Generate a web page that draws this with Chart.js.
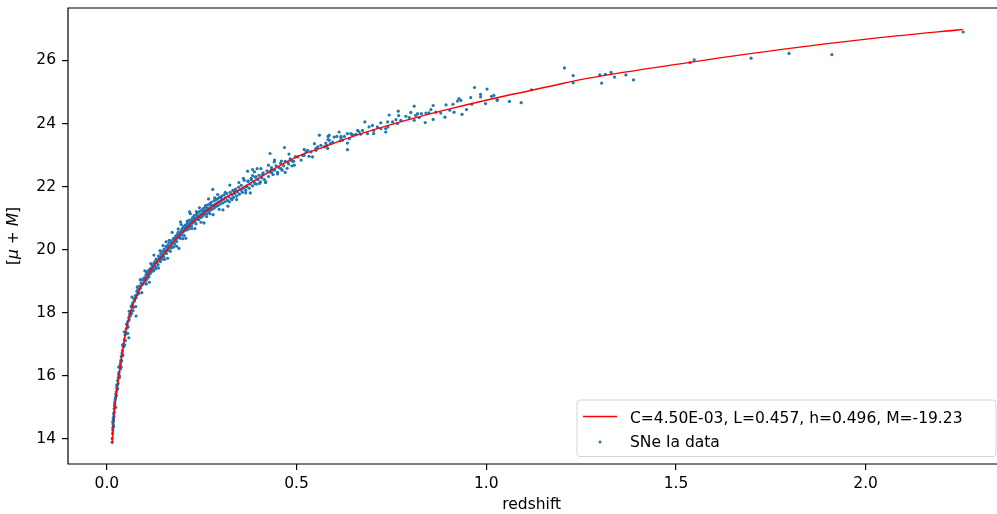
<!DOCTYPE html>
<html>
<head>
<meta charset="utf-8">
<script src="https://cdn.jsdelivr.net/npm/chart.js@4/dist/chart.umd.min.js"></script>
<style>
  html, body { margin: 0; padding: 0; background: #fff; width: 997px; height: 514px; overflow: hidden; }
</style>
</head>
<body>
<canvas id="plotChart" width="997" height="514"></canvas>
<script>
// Hubble diagram: SNe Ia distance modulus vs redshift, with fitted curve

const xTicks = [0.0, 0.5, 1.0, 1.5, 2.0];
const yTicks = [14, 16, 18, 20, 22, 24, 26];
const fitLabel = "C=4.50E-03, L=0.457, h=0.496, M=-19.23";
const dataLabel = "SNe Ia data";

// fitted curve
const fitZ = [0.0137, 0.0197, 0.0287, 0.039, 0.0505, 0.0637, 0.081, 0.103, 0.125, 0.147,
  0.195, 0.248, 0.300, 0.353, 0.406, 0.458, 0.511, 0.564, 0.643, 0.774, 0.906, 1.037,
  1.169, 1.248, 1.511, 1.774, 2.037, 2.256];
const fitMu = [13.86, 14.92, 15.76, 16.60, 17.45, 18.08, 18.61, 19.10, 19.51, 19.83,
  20.51, 21.09, 21.55, 21.93, 22.31, 22.68, 23.00, 23.22, 23.57, 24.05, 24.47, 24.84,
  25.18, 25.39, 25.89, 26.34, 26.72, 26.98];

// SNe Ia points [z, mu+M], z < 0.1
const snLow = [
  [0.0140,13.90],[0.0142,14.02],[0.0150,14.18],[0.0153,14.35],[0.0158,14.28],[0.0160,14.52],
  [0.0165,14.45],[0.0170,14.66],[0.0175,14.60],[0.0180,14.80],[0.0185,14.72],[0.0190,14.95],
  [0.0195,14.85],[0.0200,15.05],[0.0210,15.12],[0.0215,15.00],[0.0220,15.25],[0.0230,15.32],
  [0.0235,15.42],[0.0245,15.50],[0.0250,15.38],[0.0260,15.62],[0.0270,15.70],[0.0275,15.58],
  [0.0285,15.85],[0.0295,15.76],[0.0300,15.95],[0.0310,16.05],[0.0320,16.12],[0.0330,16.00],
  [0.0340,16.28],[0.0350,16.35],[0.0360,16.22],[0.0370,16.50],[0.0380,16.62],[0.0390,16.48],
  [0.0400,16.72],[0.0410,16.80],[0.0420,16.65],[0.0430,16.95],[0.0445,17.02],[0.0460,17.15],
  [0.0470,16.98],[0.0480,17.30],[0.0495,17.38],[0.0510,17.50],[0.0520,17.35],[0.0535,17.62],
  [0.0550,17.72],[0.0560,17.55],[0.0575,17.85],[0.0580,17.21],[0.0590,17.78],[0.0600,17.95],
  [0.0620,18.05],[0.0640,18.20],[0.0650,17.98],[0.0665,18.25],[0.0680,18.32],[0.0700,18.18],
  [0.0715,18.45],[0.0730,18.38],[0.0750,18.55],[0.0770,17.90],[0.0770,18.48],[0.0790,18.68],
  [0.0800,18.58],[0.0820,18.75],[0.0840,18.62],[0.0850,18.75],[0.0860,18.85],[0.0880,18.78],
  [0.0900,18.95],[0.0920,18.88],[0.0940,19.05],[0.0960,18.92],[0.0980,19.10],
  [0.016,14.55],[0.018,14.40],[0.021,15.18],[0.023,15.01],[0.026,15.71],[0.028,15.60],
  [0.031,16.28],[0.033,15.95],[0.036,16.42],[0.038,16.28],[0.041,16.98],[0.044,16.92],
  [0.046,17.40],[0.049,17.12],[0.052,17.64],[0.055,17.35],[0.059,18.05],[0.062,17.90],
  [0.066,18.50],[0.069,18.07],[0.073,18.42],[0.076,18.20],[0.080,18.82],[0.084,18.63],
  [0.088,19.05],[0.092,18.64],[0.096,19.07]
];

// 0.1 <= z < 0.5, points close to the curve
const snMid = [
  [0.100,19.12],[0.101,18.98],[0.103,19.20],[0.104,19.05],[0.105,19.28],[0.107,19.10],[0.108,19.22],
  [0.110,19.32],[0.111,19.15],[0.113,19.38],[0.114,19.24],[0.116,19.41],[0.117,19.30],[0.118,19.52],
  [0.120,19.40],[0.121,19.47],[0.123,19.33],[0.124,19.58],[0.126,19.50],[0.127,19.62],[0.129,19.45],
  [0.130,19.70],[0.132,19.58],[0.133,19.66],[0.135,19.52],[0.136,19.80],[0.138,19.68],[0.139,19.74],
  [0.141,19.62],[0.142,19.88],[0.144,19.79],[0.145,19.70],[0.147,19.95],[0.148,19.84],[0.150,19.78],
  [0.151,20.02],[0.153,19.90],[0.154,19.97],[0.156,20.25],[0.157,19.88],[0.158,20.08],[0.160,19.98],
  [0.161,20.15],[0.163,20.05],[0.164,20.22],[0.166,20.10],[0.167,19.95],[0.169,20.28],[0.170,20.16],
  [0.172,20.22],[0.173,20.08],[0.175,20.35],[0.176,20.25],[0.178,20.30],[0.179,20.18],[0.181,20.42],
  [0.182,20.33],[0.184,20.26],[0.185,20.48],[0.187,20.38],[0.188,20.55],[0.190,20.04],[0.190,20.44],
  [0.192,20.52],[0.193,20.36],[0.194,20.88],[0.195,20.58],[0.197,20.47],[0.198,20.65],[0.200,20.55],
  [0.201,20.72],[0.203,20.60],[0.204,20.45],[0.206,20.68],[0.207,20.78],[0.209,20.62],[0.210,20.74],
  [0.212,20.85],[0.213,20.66],[0.215,20.78],[0.216,20.92],[0.218,21.20],[0.218,20.72],[0.220,20.84],
  [0.221,20.95],[0.223,20.76],[0.224,20.88],[0.226,21.02],[0.227,20.85],[0.229,20.94],[0.230,21.08],
  [0.232,20.90],[0.233,21.00],[0.235,20.82],[0.236,21.12],[0.238,20.98],[0.239,21.05],[0.241,21.18],
  [0.242,20.95],[0.244,21.08],[0.245,21.22],[0.247,21.02],[0.248,21.12],[0.250,21.25],[0.251,21.05],
  [0.253,21.16],[0.254,21.30],[0.256,21.10],[0.257,21.22],[0.259,21.35],[0.260,21.14],[0.262,21.26],
  [0.263,21.05],[0.265,21.32],[0.266,21.42],[0.268,21.20],[0.269,21.30],[0.271,21.45],[0.272,21.25],
  [0.274,21.36],[0.275,21.50],[0.277,21.28],[0.279,21.91],[0.280,21.40],[0.282,21.55],[0.283,21.32],
  [0.285,21.44],[0.287,21.58],[0.288,21.38],[0.290,21.48],[0.292,21.62],[0.293,21.40],[0.295,21.52],
  [0.297,21.66],[0.299,21.45],[0.301,21.56],[0.303,21.70],[0.305,21.48],[0.307,21.60],[0.309,21.74],
  [0.311,21.52],[0.313,21.64],[0.316,21.78],[0.318,21.56],[0.319,21.38],[0.321,21.68],[0.323,21.52],
  [0.325,21.82],[0.327,21.62],[0.330,21.74],[0.332,21.88],[0.334,21.66],[0.337,21.78],[0.339,21.92],
  [0.342,21.70],[0.344,21.84],[0.347,21.98],[0.349,21.76],[0.352,21.90],[0.354,22.04],[0.357,21.82],
  [0.360,21.95],[0.362,22.20],[0.366,21.88],[0.367,21.99],[0.369,22.02],[0.371,22.49],[0.372,22.16],
  [0.375,21.95],[0.378,22.08],[0.380,22.26],[0.381,22.22],[0.384,22.54],[0.384,22.02],[0.388,22.15],
  [0.389,22.47],[0.391,22.30],[0.393,22.31],[0.394,22.08],[0.398,22.22],[0.401,22.36],[0.405,22.15],
  [0.406,22.57],[0.408,22.28],[0.412,22.44],[0.415,22.22],[0.419,22.15],[0.422,22.50],[0.426,22.32],
  [0.430,23.05],[0.430,22.46],[0.433,22.52],[0.434,22.60],[0.438,22.38],[0.441,22.78],[0.442,22.52],
  [0.446,22.66],[0.450,22.45],[0.454,22.60],[0.458,22.74],[0.459,22.57],[0.462,22.52],[0.466,22.66],
  [0.468,23.24],[0.470,22.80],[0.475,22.58],[0.477,22.78],[0.479,22.72],[0.483,22.88],[0.485,22.84],
  [0.488,22.66],[0.492,22.80],[0.494,22.68],[0.497,22.95]
];

// 0.1 <= z < 0.5, the wider spread of the band
const snSpread = [
  [0.100,19.33],[0.104,18.91],[0.108,19.33],[0.112,18.97],[0.116,19.56],[0.120,19.33],[0.124,19.83],
  [0.128,19.39],[0.132,19.68],[0.136,19.42],[0.140,19.97],[0.144,19.74],[0.148,20.13],[0.152,19.69],
  [0.156,20.10],[0.160,19.73],[0.164,20.30],[0.168,20.05],[0.172,20.55],[0.176,20.09],[0.180,20.38],
  [0.184,20.11],[0.188,20.66],[0.192,20.42],[0.196,20.80],[0.200,20.35],[0.204,20.74],[0.208,20.36],
  [0.212,20.91],[0.216,20.66],[0.220,21.14],[0.224,20.67],[0.228,20.95],[0.232,20.67],[0.236,21.21],
  [0.240,20.96],[0.244,21.33],[0.248,20.87],[0.252,21.25],[0.256,20.85],[0.260,21.40],[0.264,21.14],
  [0.268,21.61],[0.272,21.14],[0.276,21.40],[0.280,21.11],[0.284,21.64],[0.288,21.38],[0.292,21.75],
  [0.296,21.28],[0.300,21.65],[0.306,21.26],[0.312,21.82],[0.318,21.56],[0.324,22.05],[0.330,21.59],
  [0.336,21.86],[0.342,21.59],[0.348,22.13],[0.354,21.89],[0.360,22.26],[0.366,21.80],[0.372,22.18],
  [0.378,21.80],[0.384,22.35],[0.390,22.09],[0.396,22.57],[0.402,22.10],[0.410,22.39],[0.418,22.13],
  [0.426,22.68],[0.434,22.45],[0.442,22.84],[0.450,22.40],[0.460,22.81],[0.470,22.45],[0.480,23.03],
  [0.490,22.80]
];

// 0.5 <= z < 1.0
const snDeep = [
  [0.503,22.94],[0.512,22.84],[0.516,22.99],[0.520,23.18],[0.520,22.99],[0.525,23.10],[0.529,23.15],
  [0.533,22.96],[0.538,23.10],[0.542,22.94],[0.547,23.36],[0.551,23.15],[0.551,23.21],[0.556,23.26],
  [0.560,23.63],[0.564,23.31],[0.573,23.26],[0.577,23.38],[0.577,23.28],[0.580,23.31],[0.582,23.21],
  [0.583,23.49],[0.583,23.59],[0.586,23.63],[0.586,23.47],[0.589,23.36],[0.595,23.41],[0.599,23.57],
  [0.606,23.59],[0.612,23.73],[0.615,23.45],[0.617,23.55],[0.617,23.59],[0.621,23.47],[0.626,23.59],
  [0.634,23.68],[0.634,23.38],[0.634,23.17],[0.639,23.52],[0.643,23.68],[0.645,23.66],[0.648,23.63],
  [0.656,23.66],[0.661,23.78],[0.665,23.73],[0.669,23.66],[0.674,23.78],[0.680,24.05],[0.687,23.68],
  [0.691,23.89],[0.700,23.94],[0.703,23.78],[0.703,23.68],[0.713,23.89],[0.722,23.84],[0.722,24.02],
  [0.735,23.84],[0.735,23.73],[0.740,24.05],[0.741,23.89],[0.744,24.27],[0.753,24.05],[0.762,24.12],
  [0.766,24.00],[0.768,24.39],[0.769,24.25],[0.775,24.10],[0.788,24.23],[0.797,24.19],[0.801,24.35],
  [0.810,24.55],[0.810,24.10],[0.814,24.26],[0.819,24.31],[0.823,24.19],[0.829,24.31],[0.839,24.03],
  [0.841,24.33],[0.849,24.34],[0.854,24.44],[0.860,24.57],[0.860,24.13],[0.867,24.36],[0.880,24.33],
  [0.891,24.20],[0.894,24.59],[0.904,24.42],[0.912,24.61],[0.915,24.36],[0.924,24.71],[0.928,24.79],
  [0.933,24.73],[0.936,24.29],[0.948,24.44],[0.959,24.82],[0.962,24.61],[0.969,25.14],[0.985,24.92],
  [0.985,24.84],[0.998,24.63]
];

// z >= 1.0
const snHigh = [
  [1.002,25.09],[1.014,24.86],[1.020,24.89],[1.029,24.76],[1.029,24.73],[1.061,24.70],[1.092,24.66],
  [1.119,25.07],[1.206,25.76],[1.229,25.52],[1.229,25.29],[1.299,25.54],[1.304,25.28],[1.314,25.56],
  [1.329,25.62],[1.338,25.47],[1.368,25.54],[1.388,25.38],[1.537,25.93],[1.548,26.02],[1.698,26.07],
  [1.798,26.22],[1.911,26.18],[2.257,26.90]
];

const FONT = "DejaVu Sans";
const FSIZE = 15.5;
const lineColor = "#ff0000";
const dotColor = "#1f77b4";

const fitPoints = fitZ.map((z, i) => ({ x: z, y: fitMu[i] }));
const snPoints = [...snLow, ...snMid, ...snSpread, ...snDeep, ...snHigh].map((p) => ({ x: p[0], y: p[1] }));

// axes spines: left, top, bottom (the right one lies past the window edge)
const framePlugin = {
  id: "frame",
  afterDatasetsDraw(chart) {
    const a = chart.chartArea;
    const c = chart.ctx;
    c.save();
    c.strokeStyle = "#000";
    c.lineWidth = 1.2;
    c.beginPath();
    c.moveTo(a.right + 2, a.top);
    c.lineTo(a.left, a.top);
    c.lineTo(a.left, a.bottom);
    c.lineTo(a.right + 2, a.bottom);
    c.stroke();
    c.restore();
  },
};

// rotated y label with italic mu and M
const yTitlePlugin = {
  id: "yTitle",
  afterDraw(chart) {
    const a = chart.chartArea;
    const c = chart.ctx;
    const parts = [["[", false], ["\u03bc", true], [" + ", false], ["M", true], ["]", false]];
    const fontOf = (it) => (it ? "italic " : "") + FSIZE + "px '" + FONT + "'";
    let total = 0;
    parts.forEach((p) => { c.font = fontOf(p[1]); total += c.measureText(p[0]).width; });
    c.save();
    c.translate(14, (a.top + a.bottom) / 2);
    c.rotate(-Math.PI / 2);
    c.fillStyle = "#000";
    c.textBaseline = "middle";
    c.textAlign = "left";
    let x = -total / 2;
    parts.forEach((p) => {
      c.font = fontOf(p[1]);
      c.fillText(p[0], x, 0);
      x += c.measureText(p[0]).width;
    });
    c.restore();
  },
};

// legend box in the lower right corner
const legendPlugin = {
  id: "boxLegend",
  afterDraw(chart) {
    const c = chart.ctx;
    const ds = chart.data.datasets;
    const left = 577, top = 400, right = 996, bottom = 456.5, r = 3;
    c.save();
    c.beginPath();
    c.moveTo(left + r, top);
    c.lineTo(right - r, top);
    c.arcTo(right, top, right, top + r, r);
    c.lineTo(right, bottom - r);
    c.arcTo(right, bottom, right - r, bottom, r);
    c.lineTo(left + r, bottom);
    c.arcTo(left, bottom, left, bottom - r, r);
    c.lineTo(left, top + r);
    c.arcTo(left, top, left + r, top, r);
    c.closePath();
    c.fillStyle = "rgba(255,255,255,0.8)";
    c.fill();
    c.strokeStyle = "rgba(204,204,204,0.8)";
    c.lineWidth = 1;
    c.stroke();

    // fit line sample
    c.strokeStyle = ds[0].borderColor;
    c.lineWidth = ds[0].borderWidth;
    c.beginPath();
    c.moveTo(583, 416.5);
    c.lineTo(617, 416.5);
    c.stroke();
    // data marker sample
    c.fillStyle = ds[1].backgroundColor;
    c.beginPath();
    c.arc(600, 442, 1.5, 0, Math.PI * 2);
    c.fill();

    c.fillStyle = "#000";
    c.font = FSIZE + "px '" + FONT + "'";
    c.textAlign = "left";
    c.textBaseline = "alphabetic";
    c.fillText(ds[0].label, 630, 423);
    c.fillText(ds[1].label, 630, 446.5);
    c.restore();
  },
};

const ctx = document.getElementById("plotChart").getContext("2d");
new Chart(ctx, {
  type: "scatter",
  data: {
    datasets: [
      {
        label: fitLabel,
        data: fitPoints,
        showLine: true,
        borderColor: lineColor,
        borderWidth: 1.4,
        pointRadius: 0,
        fill: false,
        cubicInterpolationMode: "monotone",
      },
      {
        label: dataLabel,
        data: snPoints,
        backgroundColor: dotColor,
        borderWidth: 0,
        pointRadius: 1.6,
        pointHoverRadius: 1.6,
      },
    ],
  },
  options: {
    responsive: false,
    animation: false,
    events: [],
    layout: { padding: { left: 0, top: 8, right: 0, bottom: 0 } },
    plugins: { legend: { display: false }, tooltip: { enabled: false } },
    scales: {
      x: {
        type: "linear",
        min: -0.1025,
        max: 2.342,
        afterBuildTicks: (scale) => { scale.ticks = xTicks.map((v) => ({ value: v })); },
        afterFit: (scale) => {
          scale.height = 50;
          scale.paddingLeft = 0;
          scale.paddingRight = 0;
        },
        ticks: {
          autoSkip: false,
          maxRotation: 0,
          padding: 5,
          color: "#000",
          font: { family: FONT, size: FSIZE },
          callback: (v) => Number(v).toFixed(1),
        },
        grid: { display: true, drawOnChartArea: false, drawTicks: true, tickLength: 6, color: "#000", lineWidth: 1.2 },
        border: { display: false },
        title: {
          display: true,
          text: "redshift",
          color: "#000",
          font: { family: FONT, size: FSIZE },
          padding: { top: 0, bottom: 0 },
        },
      },
      y: {
        type: "linear",
        min: 13.21,
        max: 27.66,
        afterBuildTicks: (scale) => { scale.ticks = yTicks.map((v) => ({ value: v })); },
        afterFit: (scale) => {
          scale.width = 68;
          scale.paddingTop = 0;
          scale.paddingBottom = 0;
        },
        ticks: {
          autoSkip: false,
          padding: 6,
          color: "#000",
          font: { family: FONT, size: FSIZE },
          callback: (v) => String(v),
        },
        grid: { display: true, drawOnChartArea: false, drawTicks: true, tickLength: 6, color: "#000", lineWidth: 1.2 },
        border: { display: false },
      },
    },
  },
  plugins: [framePlugin, yTitlePlugin, legendPlugin],
});
</script>
</body>
</html>
